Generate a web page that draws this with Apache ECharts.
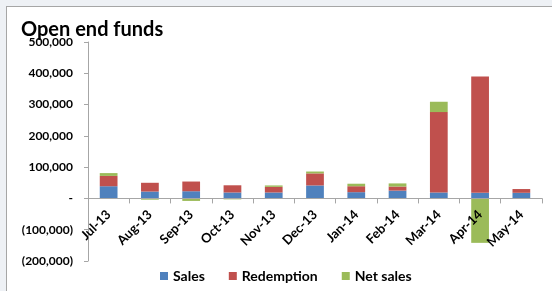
<!DOCTYPE html>
<html>
<head>
<meta charset="utf-8">
<script src="https://cdn.jsdelivr.net/npm/echarts@6/dist/echarts.min.js"></script>
<style>
  html, body { margin: 0; padding: 0; background: #eef1f5; }
  #frame {
    position: absolute; left: 6px; top: 6px; width: 560px; height: 300px;
    background: #fff; border-left: 1px solid #a6a6a6; border-top: 1px solid #a6a6a6;
  }
  #chart { position: absolute; left: 0; top: 0; width: 552px; height: 291px; }
</style>
</head>
<body>
<div id="frame"></div>
<div id="chart"></div>
<script>
// months shown on the x axis
var months = ['Jul-13', 'Aug-13', 'Sep-13', 'Oct-13', 'Nov-13', 'Dec-13', 'Jan-14', 'Feb-14', 'Mar-14', 'Apr-14', 'May-14'];
// values
var sales      = [39000, 22000, 23000, 19000, 19000, 41500, 20000, 25000, 19000, 18000, 18000];
var redemption = [33000, 28000, 31000, 23000, 18000, 38500, 19000, 13000, 257000, 372000, 12000];
var netSales   = [9000, -4000, -8000, -3000, 4500, 6000, 8000, 10000, 33000, -142000, 0];
var seriesNames = ['Sales', 'Redemption', 'Net sales'];
var yMin = -200000, yMax = 500000;

var myChart = echarts.init(document.getElementById('chart'));

function fmt(v) {
  if (v === 0) return '-';
  var s = Math.abs(v).toLocaleString('en-US');
  return v < 0 ? '(' + s + ')' : s;
}

var font = 'Lato, "Open Sans", sans-serif';
var gridTop = 42, gridBottom = 30;
var gridH = 291 - gridTop - gridBottom;
// move the category axis (line, ticks and labels) up to the zero line
var zeroOffset = -gridH * (0 - yMin) / (yMax - yMin);

var option = {
  animation: false,
  textStyle: { fontFamily: font },
  color: ['#4F81BD', '#C0504D', '#9BBB59'],
  title: {
    text: 'Open end funds',
    left: 16,
    top: 15,
    textStyle: { fontSize: 20, fontWeight: 'bold', color: '#000', fontFamily: font }
  },
  legend: {
    bottom: 3,
    left: 155,
    itemWidth: 8,
    itemHeight: 8,
    itemGap: 24,
    icon: 'rect',
    textStyle: { fontSize: 14, fontWeight: 'bold', color: '#000', fontFamily: font },
    data: seriesNames
  },
  grid: { left: 88, right: 10, top: gridTop, bottom: gridBottom, outerBoundsMode: 'none' },
  xAxis: {
    type: 'category',
    data: months,
    position: 'bottom',
    offset: zeroOffset,
    z: 10,
    axisLine: { onZero: false, lineStyle: { color: '#a6a6a6' } },
    axisTick: { show: true, length: 5, lineStyle: { color: '#a6a6a6' } },
    axisLabel: {
      rotate: 45,
      margin: 14,
      fontSize: 13,
      fontWeight: 'bold',
      color: '#000',
      interval: 0
    }
  },
  yAxis: {
    type: 'value',
    min: yMin,
    max: yMax,
    interval: 100000,
    splitLine: { show: false },
    axisLine: { show: true, lineStyle: { color: '#a6a6a6' } },
    axisTick: { show: true, length: 4, lineStyle: { color: '#a6a6a6' } },
    axisLabel: {
      margin: 15,
      fontSize: 12,
      fontWeight: 'bold',
      color: '#000',
      formatter: fmt
    }
  },
  series: [
    { name: seriesNames[0], type: 'bar', stack: 'funds', barWidth: '43%', data: sales },
    { name: seriesNames[1], type: 'bar', stack: 'funds', barWidth: '43%', data: redemption },
    { name: seriesNames[2], type: 'bar', stack: 'funds', barWidth: '43%', data: netSales }
  ]
};

myChart.setOption(option);
</script>
</body>
</html>
